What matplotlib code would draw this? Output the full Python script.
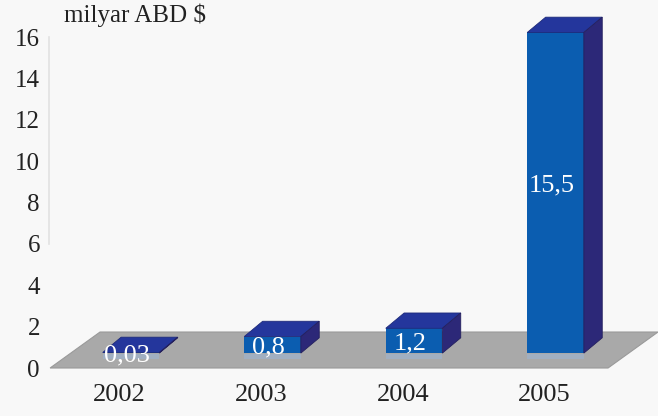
import matplotlib
matplotlib.use("Agg")
import matplotlib.pyplot as plt
from matplotlib.patches import Polygon

years = ["2002", "2003", "2004", "2005"]
values = [0.03, 0.8, 1.2, 15.5]
value_labels = ["0,03", "0,8", "1,2", "15,5"]
yticks = [0, 2, 4, 6, 8, 10, 12, 14, 16]
unit_label = "milyar ABD $"

plt.rcParams['font.family'] = ['Liberation Serif', 'DejaVu Serif']

BG = "#f8f8f8"
FRONT = "#0b5db0"
TOP = "#24369c"
SIDE = "#2c2878"
FLOOR = "#a9a9a9"
TXT = "#222222"

fig = plt.figure(figsize=(6.58, 4.16), dpi=100, facecolor=BG)
ax = fig.add_axes([0, 0, 1, 1], facecolor=BG)
ax.set_xlim(-0.926, 3.724)
ax.set_ylim(-2.32, 17.79)

# geometry (data units)
base = 0.72          # front face baseline above axis zero
w = 0.40             # bar width
ddx, ddy = 0.130, 0.74   # bar depth offset
fl_x0, fl_x1 = -0.572, 3.371
fl_dx, fl_dy = 0.353, 1.74

# floor
ax.add_patch(Polygon([(fl_x0, 0.0), (fl_x1, 0.0), (fl_x1 + fl_dx, fl_dy),
                      (fl_x0 + fl_dx, fl_dy)], closed=True,
                     facecolor=FLOOR, edgecolor="#9a9a9a", lw=0.8, zorder=1))

xs = list(range(len(years)))
# light reflection below bars
ax.bar(xs, [0.28] * len(xs), width=w, bottom=base - 0.30, color="#9bb4d6",
       alpha=0.55, zorder=2, linewidth=0)

bars = ax.bar(xs, values, width=w, bottom=base, color=FRONT, zorder=3,
              linewidth=0)
for x, v in zip(xs, values):
    l, r = x - w / 2, x + w / 2
    t = base + v
    ax.add_patch(Polygon([(l, t), (r, t), (r + ddx, t + ddy), (l + ddx, t + ddy)],
                         closed=True, facecolor=TOP, edgecolor="#1e2a7a",
                         lw=0.6, zorder=4))
    ax.add_patch(Polygon([(r, base), (r + ddx, base + ddy), (r + ddx, t + ddy),
                          (r, t)], closed=True, facecolor=SIDE,
                         edgecolor="#24205e", lw=0.6, zorder=4))

for x, v, lab in zip(xs, values, value_labels):
    ax.text(x - 0.03, base + v / 2 + (0.35 if v > 5 else -0.15), lab,
            ha="center", va="center", color="white", fontsize=19, zorder=6)

for x, yr in zip(xs, years):
    ax.text(x - 0.08, -1.32, yr, ha="center", va="center", color=TXT,
            fontsize=19)

# y axis
for s in ["top", "right", "bottom"]:
    ax.spines[s].set_visible(False)
ax.spines["left"].set_position(("data", -0.58))
ax.spines["left"].set_bounds(6, 16)
ax.spines["left"].set_color("#e2e2e2")
ax.spines["left"].set_linewidth(1.2)
ax.set_yticks(yticks)
ax.set_yticklabels([str(t) for t in yticks])
ax.tick_params(axis="y", length=0, pad=6.5, labelsize=18, labelcolor=TXT)
ax.set_xticks([])

ax.text(-0.475, 17.05, unit_label, ha="left", va="center", fontsize=18,
        color=TXT)

fig.savefig("out.png", dpi=100, facecolor=BG)
